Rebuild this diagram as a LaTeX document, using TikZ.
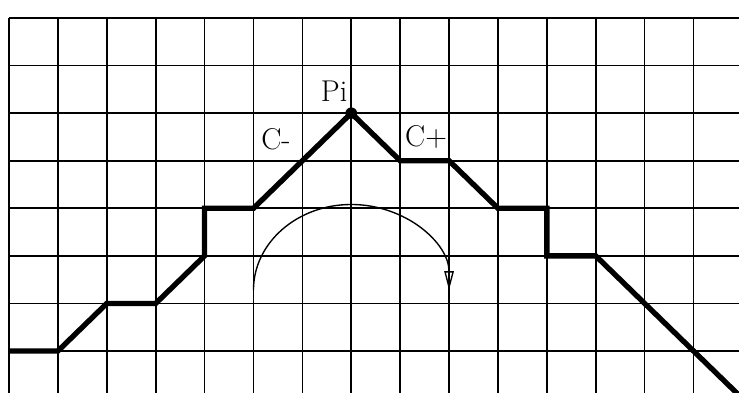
\documentclass[tikz,border=0pt]{standalone}
\usepackage{tikz}
\usetikzlibrary{arrows.meta}

\tikzset{
  gridline/.style={line width=1pt},
  profile/.style={line width=3.1pt, line join=miter},
  turn/.style={line width=0.8pt, -{Triangle[open,length=11pt,width=5.5pt]}},
  tag/.style={font=\fontsize{17.5}{20}\selectfont, inner sep=0pt}
}

\begin{document}
\begin{tikzpicture}[x=1cm,y=0.973cm]
			\useasboundingbox (-0.184,0.378) rectangle (14.93,-7.88);
			% grid
			\foreach \r in {0,...,7}
				\draw[gridline] (0,-\r) -- (14.93,-\r);
			\foreach \c in {0,...,14}
				\draw[gridline] (\c,0) -- (\c,-7.88);
			% profile
			\coordinate (Pi) at (7,-2);
			\draw[profile] (0,-7) -- (1,-7) -- (2,-6) -- (3,-6) -- (4,-5) -- (4,-4) -- (5,-4)
				-- (Pi) -- (8,-3) -- (9,-3) -- (10,-4) -- (11,-4) -- (11,-5) -- (12,-5) -- (14.93,-7.93);
			\fill (Pi) circle (0.12);
			% turning arc
			\coordinate (arcstart) at (5,-5.72);
			\draw[turn] (arcstart) arc[start angle=180, end angle=0, x radius=2, y radius=1.8];
			% labels
			\node[tag] (pilabel) at (6.65,-1.53) {Pi};
			\node[tag] (cminus) at (5.46,-2.54) {C-};
			\node[tag] (cplus) at (8.53,-2.50) {C+};
		\end{tikzpicture}
\end{document}
